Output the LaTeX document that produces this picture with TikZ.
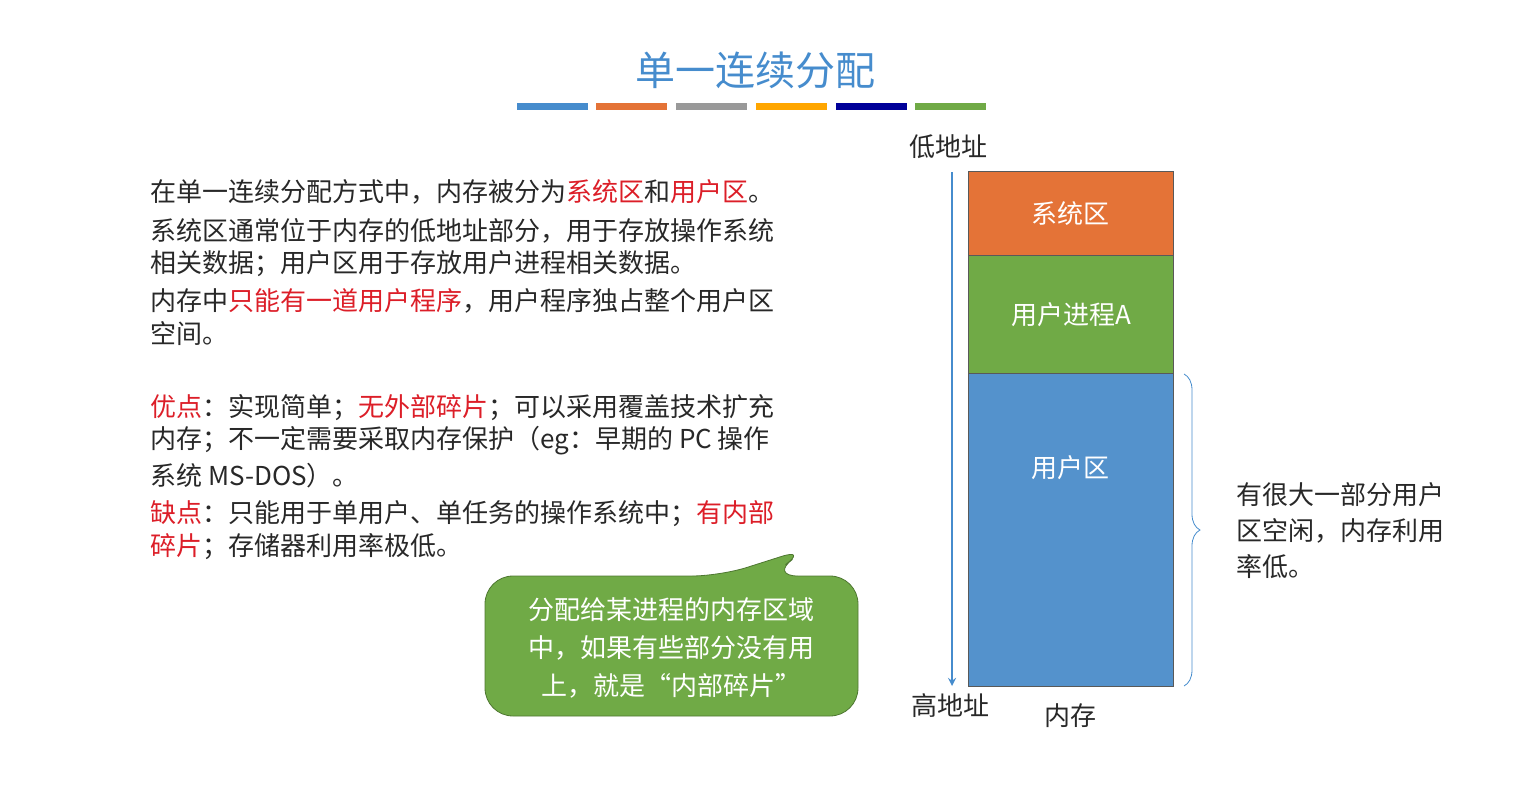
\documentclass[tikz,border=0pt]{standalone}
\usepackage{fontspec}
\setmainfont{Noto Sans CJK SC}
\usetikzlibrary{decorations.pathreplacing}
\definecolor{tblue}{RGB}{70,140,205}
\definecolor{rd}{RGB}{220,30,40}
\definecolor{org}{RGB}{228,115,55}
\definecolor{grn}{RGB}{112,170,70}
\definecolor{blu}{RGB}{84,146,204}
\definecolor{txt}{RGB}{40,40,40}
\tikzset{ln/.style={anchor=west,inner sep=0pt,font=\fontsize{13}{15}\selectfont,text=txt},
 lab/.style={inner sep=0pt,font=\fontsize{13}{15}\selectfont,text=txt},
 inbox/.style={inner sep=0pt,font=\fontsize{13}{15}\selectfont,text=white}}
\begin{document}
\begin{tikzpicture}[x=0.5pt,y=-0.5pt]
\useasboundingbox (0,0) rectangle (1523,803);
\node[inner sep=0pt,font=\fontsize{20}{24}\selectfont,text=tblue] (title) at (755,70) {单一连续分配};
\foreach \a/\c in {517/tblue,596/org,676/gray!80,756/orange!70!yellow,836/blue!60!black,915/grn}
  \fill[\c] (\a,103) rectangle ++(71,7);
\node[ln] (l1) at (150,192) {在单一连续分配方式中，内存被分为\textcolor{rd}{系统区}和\textcolor{rd}{用户区}。};
\node[ln] (l2) at (150,231) {系统区通常位于内存的低地址部分，用于存放操作系统};
\node[ln] (l3) at (150,264) {相关数据；用户区用于存放用户进程相关数据。};
\node[ln] (l4) at (150,301) {内存中\textcolor{rd}{只能有一道用户程序}，用户程序独占整个用户区};
\node[ln] (l5) at (150,334) {空间。};
\node[ln] (l6) at (150,408) {\textcolor{rd}{优点}：实现简单；\textcolor{rd}{无外部碎片}；可以采用覆盖技术扩充};
\node[ln] (l7) at (150,441) {内存；不一定需要采取内存保护（eg：早期的 PC 操作};
\node[ln] (l8) at (150,476) {系统 MS-DOS）。};
\node[ln] (l9) at (150,514) {\textcolor{rd}{缺点}：只能用于单用户、单任务的操作系统中；\textcolor{rd}{有内部}};
\node[ln] (l10) at (150,547) {\textcolor{rd}{碎片}；存储器利用率极低。};
% callout
\draw[grn!70!black,fill=grn,rounded corners=14pt] (485,576) -- (720,576) -- (808,548) -- (770,576) -- (858,576) -- (858,716) -- (485,716) -- cycle;
\node[inbox,align=center] (call) at (671,648) {分配给某进程的内存区域\\[4pt]中，如果有些部分没有用\\[4pt]上，就是“内部碎片”};
% memory
\node[draw=gray!70!black,fill=org,minimum width=102.5pt,minimum height=42pt,inner sep=0pt,anchor=north west,inbox] (sys) at (968,171) {系统区};
\node[draw=gray!70!black,fill=grn,minimum width=102.5pt,minimum height=59pt,inner sep=0pt,anchor=north west,inbox] (ua) at (968,255) {用户进程A};
\node[draw=gray!70!black,fill=blu,minimum width=102.5pt,minimum height=156.5pt,inner sep=0pt,anchor=north west] (uz) at (968,373) {};
\node[inbox] (uzl) at (1070,468) {用户区};
\node[lab] (low) at (948,147) {低地址};
\node[lab] (high) at (950,706) {高地址};
\node[lab] (mem) at (1070,716) {内存};
\coordinate (a1) at (952,172);
\coordinate (a2) at (952,686);
\draw[tblue,thick,-stealth] (a1) -- (a2);
\draw[tblue,decorate,decoration={brace,amplitude=8pt}] (1184,374) -- (1184,686);
\node[anchor=west,inner sep=0pt,align=left,font=\fontsize{13}{15}\selectfont,text=txt] (note) at (1236,531) {有很大一部分用户\\[3pt]区空闲，内存利用\\[3pt]率低。};
\end{tikzpicture}
\end{document}
